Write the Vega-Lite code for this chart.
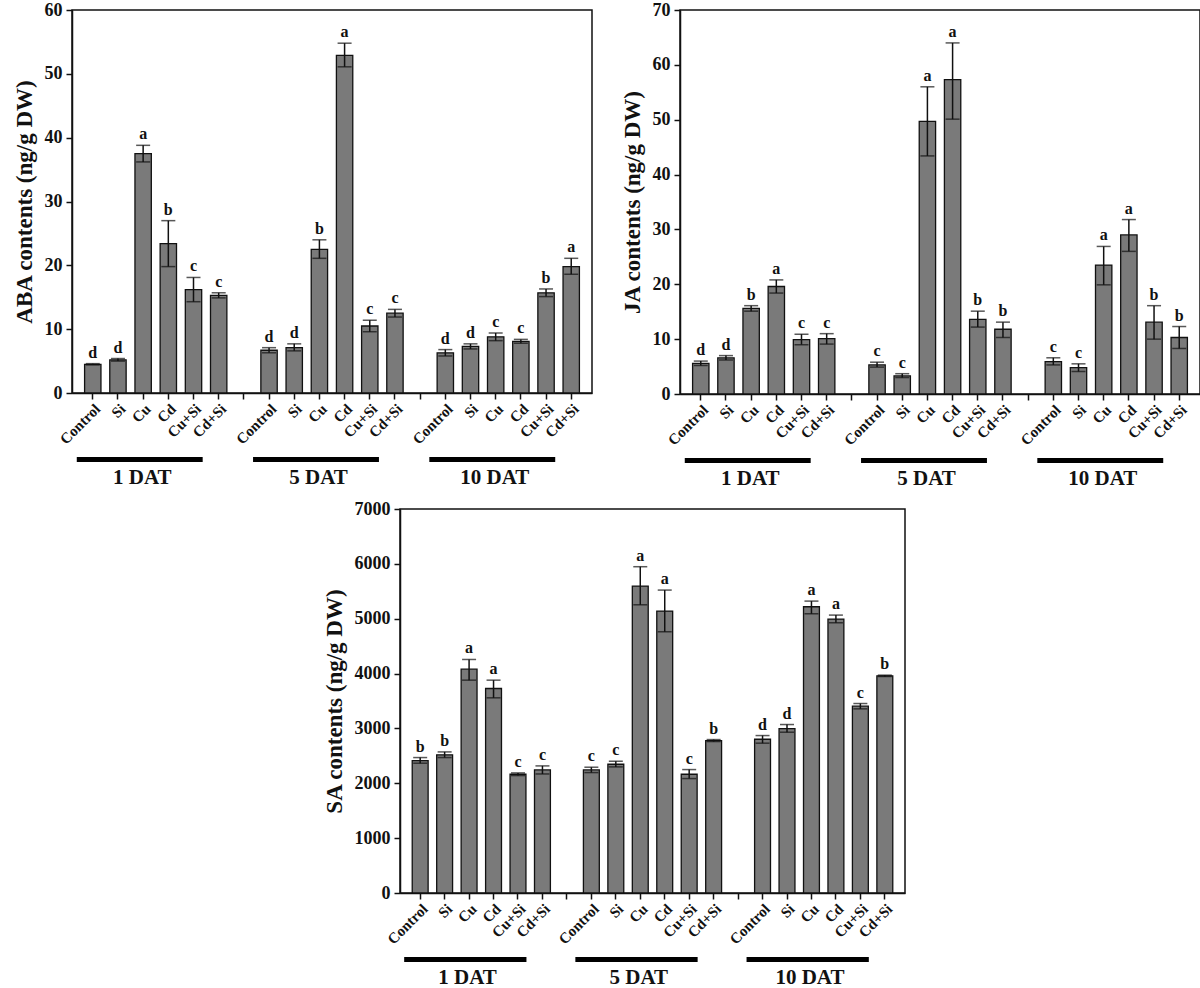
{
  "$schema": "https://vega.github.io/schema/vega-lite/v6.json",
  "background": "white",
  "padding": {"left": 12, "top": 0, "right": 0, "bottom": 0},
  "datasets": {
    "aba": [
      {"key": "1 DAT|Control", "day": "1 DAT", "trt": "Control", "value": 4.5, "lo": 4.4, "hi": 4.6, "letter": "d"},
      {"key": "1 DAT|Si", "day": "1 DAT", "trt": "Si", "value": 5.2, "lo": 5.0, "hi": 5.4, "letter": "d"},
      {"key": "1 DAT|Cu", "day": "1 DAT", "trt": "Cu", "value": 37.5, "lo": 36.2, "hi": 38.8, "letter": "a"},
      {"key": "1 DAT|Cd", "day": "1 DAT", "trt": "Cd", "value": 23.4, "lo": 19.8, "hi": 27.0, "letter": "b"},
      {"key": "1 DAT|Cu+Si", "day": "1 DAT", "trt": "Cu+Si", "value": 16.2, "lo": 14.3, "hi": 18.1, "letter": "c"},
      {"key": "1 DAT|Cd+Si", "day": "1 DAT", "trt": "Cd+Si", "value": 15.3, "lo": 14.9, "hi": 15.7, "letter": "c"},
      {"key": "5 DAT|Control", "day": "5 DAT", "trt": "Control", "value": 6.7, "lo": 6.3, "hi": 7.1, "letter": "d"},
      {"key": "5 DAT|Si", "day": "5 DAT", "trt": "Si", "value": 7.1, "lo": 6.6, "hi": 7.7, "letter": "d"},
      {"key": "5 DAT|Cu", "day": "5 DAT", "trt": "Cu", "value": 22.5, "lo": 21.1, "hi": 24.0, "letter": "b"},
      {"key": "5 DAT|Cd", "day": "5 DAT", "trt": "Cd", "value": 52.9, "lo": 51.1, "hi": 54.8, "letter": "a"},
      {"key": "5 DAT|Cu+Si", "day": "5 DAT", "trt": "Cu+Si", "value": 10.5, "lo": 9.6, "hi": 11.4, "letter": "c"},
      {"key": "5 DAT|Cd+Si", "day": "5 DAT", "trt": "Cd+Si", "value": 12.5, "lo": 11.9, "hi": 13.1, "letter": "c"},
      {"key": "10 DAT|Control", "day": "10 DAT", "trt": "Control", "value": 6.3, "lo": 5.8, "hi": 6.8, "letter": "d"},
      {"key": "10 DAT|Si", "day": "10 DAT", "trt": "Si", "value": 7.3, "lo": 6.9, "hi": 7.7, "letter": "d"},
      {"key": "10 DAT|Cu", "day": "10 DAT", "trt": "Cu", "value": 8.8, "lo": 8.2, "hi": 9.4, "letter": "c"},
      {"key": "10 DAT|Cd", "day": "10 DAT", "trt": "Cd", "value": 8.1, "lo": 7.8, "hi": 8.4, "letter": "c"},
      {"key": "10 DAT|Cu+Si", "day": "10 DAT", "trt": "Cu+Si", "value": 15.7, "lo": 15.1, "hi": 16.3, "letter": "b"},
      {"key": "10 DAT|Cd+Si", "day": "10 DAT", "trt": "Cd+Si", "value": 19.8, "lo": 18.6, "hi": 21.1, "letter": "a"}
    ],
    "ja": [
      {"key": "1 DAT|Control", "day": "1 DAT", "trt": "Control", "value": 5.6, "lo": 5.2, "hi": 6.0, "letter": "d"},
      {"key": "1 DAT|Si", "day": "1 DAT", "trt": "Si", "value": 6.6, "lo": 6.2, "hi": 7.0, "letter": "d"},
      {"key": "1 DAT|Cu", "day": "1 DAT", "trt": "Cu", "value": 15.6, "lo": 15.1, "hi": 16.1, "letter": "b"},
      {"key": "1 DAT|Cd", "day": "1 DAT", "trt": "Cd", "value": 19.6, "lo": 18.4, "hi": 20.8, "letter": "a"},
      {"key": "1 DAT|Cu+Si", "day": "1 DAT", "trt": "Cu+Si", "value": 9.9, "lo": 9.0, "hi": 10.9, "letter": "c"},
      {"key": "1 DAT|Cd+Si", "day": "1 DAT", "trt": "Cd+Si", "value": 10.1, "lo": 9.1, "hi": 11.0, "letter": "c"},
      {"key": "5 DAT|Control", "day": "5 DAT", "trt": "Control", "value": 5.3, "lo": 4.9, "hi": 5.8, "letter": "c"},
      {"key": "5 DAT|Si", "day": "5 DAT", "trt": "Si", "value": 3.3, "lo": 3.0, "hi": 3.7, "letter": "c"},
      {"key": "5 DAT|Cu", "day": "5 DAT", "trt": "Cu", "value": 49.7, "lo": 43.4, "hi": 56.0, "letter": "a"},
      {"key": "5 DAT|Cd", "day": "5 DAT", "trt": "Cd", "value": 57.3, "lo": 50.1, "hi": 64.0, "letter": "a"},
      {"key": "5 DAT|Cu+Si", "day": "5 DAT", "trt": "Cu+Si", "value": 13.6, "lo": 12.2, "hi": 15.1, "letter": "b"},
      {"key": "5 DAT|Cd+Si", "day": "5 DAT", "trt": "Cd+Si", "value": 11.8, "lo": 10.3, "hi": 13.1, "letter": "b"},
      {"key": "10 DAT|Control", "day": "10 DAT", "trt": "Control", "value": 5.9, "lo": 5.3, "hi": 6.6, "letter": "c"},
      {"key": "10 DAT|Si", "day": "10 DAT", "trt": "Si", "value": 4.8, "lo": 4.1, "hi": 5.5, "letter": "c"},
      {"key": "10 DAT|Cu", "day": "10 DAT", "trt": "Cu", "value": 23.5, "lo": 19.9, "hi": 26.9, "letter": "a"},
      {"key": "10 DAT|Cd", "day": "10 DAT", "trt": "Cd", "value": 29.0, "lo": 26.0, "hi": 31.8, "letter": "a"},
      {"key": "10 DAT|Cu+Si", "day": "10 DAT", "trt": "Cu+Si", "value": 13.1, "lo": 10.0, "hi": 16.1, "letter": "b"},
      {"key": "10 DAT|Cd+Si", "day": "10 DAT", "trt": "Cd+Si", "value": 10.3, "lo": 8.3, "hi": 12.3, "letter": "b"}
    ],
    "sa": [
      {"key": "1 DAT|Control", "day": "1 DAT", "trt": "Control", "value": 2414, "lo": 2366, "hi": 2469, "letter": "b"},
      {"key": "1 DAT|Si", "day": "1 DAT", "trt": "Si", "value": 2518, "lo": 2469, "hi": 2572, "letter": "b"},
      {"key": "1 DAT|Cu", "day": "1 DAT", "trt": "Cu", "value": 4081, "lo": 3880, "hi": 4257, "letter": "a"},
      {"key": "1 DAT|Cd", "day": "1 DAT", "trt": "Cd", "value": 3728, "lo": 3558, "hi": 3880, "letter": "a"},
      {"key": "1 DAT|Cu+Si", "day": "1 DAT", "trt": "Cu+Si", "value": 2165, "lo": 2141, "hi": 2189, "letter": "c"},
      {"key": "1 DAT|Cd+Si", "day": "1 DAT", "trt": "Cd+Si", "value": 2244, "lo": 2170, "hi": 2317, "letter": "c"},
      {"key": "5 DAT|Control", "day": "5 DAT", "trt": "Control", "value": 2244, "lo": 2195, "hi": 2293, "letter": "c"},
      {"key": "5 DAT|Si", "day": "5 DAT", "trt": "Si", "value": 2347, "lo": 2299, "hi": 2402, "letter": "c"},
      {"key": "5 DAT|Cu", "day": "5 DAT", "trt": "Cu", "value": 5595, "lo": 5254, "hi": 5948, "letter": "a"},
      {"key": "5 DAT|Cd", "day": "5 DAT", "trt": "Cd", "value": 5139, "lo": 4762, "hi": 5522, "letter": "a"},
      {"key": "5 DAT|Cu+Si", "day": "5 DAT", "trt": "Cu+Si", "value": 2165, "lo": 2086, "hi": 2250, "letter": "c"},
      {"key": "5 DAT|Cd+Si", "day": "5 DAT", "trt": "Cd+Si", "value": 2779, "lo": 2761, "hi": 2797, "letter": "b"},
      {"key": "10 DAT|Control", "day": "10 DAT", "trt": "Control", "value": 2803, "lo": 2731, "hi": 2870, "letter": "d"},
      {"key": "10 DAT|Si", "day": "10 DAT", "trt": "Si", "value": 2998, "lo": 2931, "hi": 3071, "letter": "d"},
      {"key": "10 DAT|Cu", "day": "10 DAT", "trt": "Cu", "value": 5218, "lo": 5090, "hi": 5321, "letter": "a"},
      {"key": "10 DAT|Cd", "day": "10 DAT", "trt": "Cd", "value": 4993, "lo": 4926, "hi": 5066, "letter": "a"},
      {"key": "10 DAT|Cu+Si", "day": "10 DAT", "trt": "Cu+Si", "value": 3406, "lo": 3357, "hi": 3454, "letter": "c"},
      {"key": "10 DAT|Cd+Si", "day": "10 DAT", "trt": "Cd+Si", "value": 3959, "lo": 3947, "hi": 3971, "letter": "b"}
    ],
    "groups": [
      {"day": "1 DAT", "first": "1 DAT|Control", "last": "1 DAT|Cd+Si", "mid": "1 DAT|Cd"},
      {"day": "5 DAT", "first": "5 DAT|Control", "last": "5 DAT|Cd+Si", "mid": "5 DAT|Cd"},
      {"day": "10 DAT", "first": "10 DAT|Control", "last": "10 DAT|Cd+Si", "mid": "10 DAT|Cd"}
    ]
  },
  "vconcat": [
    {
      "hconcat": [
        {
          "vconcat": [
            {
              "width": 520, "height": 383,
              "data": {"name": "aba"},
              "layer": [
                {"mark": {"type": "bar", "fill": "#7a7a7a", "stroke": "#111", "strokeWidth": 1.3},
                 "encoding": {
                   "x": {"field": "key", "type": "nominal", "title": null, "sort": null,
                         "scale": {"domain": ["1 DAT|Control","1 DAT|Si","1 DAT|Cu","1 DAT|Cd","1 DAT|Cu+Si","1 DAT|Cd+Si","gap1","5 DAT|Control","5 DAT|Si","5 DAT|Cu","5 DAT|Cd","5 DAT|Cu+Si","5 DAT|Cd+Si","gap2","10 DAT|Control","10 DAT|Si","10 DAT|Cu","10 DAT|Cd","10 DAT|Cu+Si","10 DAT|Cd+Si"], "paddingInner": 0.35, "paddingOuter": 0.5},
                         "axis": {"labelExpr": "indexof(datum.value, '|') > 0 ? split(datum.value, '|')[1] : ''"}},
                   "y": {"field": "value", "type": "quantitative", "title": "ABA  contents (ng/g DW)",
                         "scale": {"domain": [0, 60], "nice": false}, "axis": {"values": [0, 10, 20, 30, 40, 50, 60]}}
                 }},
                {"mark": {"type": "errorbar", "color": "#111", "ticks": {"size": 14, "thickness": 1.5}, "rule": {"strokeWidth": 1.5}},
                 "encoding": {
                   "x": {"field": "key", "type": "nominal", "title": null, "sort": null},
                   "y": {"field": "lo", "type": "quantitative", "title": "ABA  contents (ng/g DW)"},
                   "y2": {"field": "hi"}
                 }},
                {"mark": {"type": "text", "font": "Liberation Serif", "fontWeight": "bold", "fontSize": 16, "baseline": "bottom", "dy": -3, "color": "#111"},
                 "encoding": {
                   "x": {"field": "key", "type": "nominal", "title": null, "sort": null},
                   "y": {"field": "hi", "type": "quantitative", "title": "ABA  contents (ng/g DW)"},
                   "text": {"field": "letter"}
                 }}
              ]
            },
            {
              "width": 520, "height": 40,
              "view": {"stroke": null},
              "data": {"name": "groups"},
              "layer": [
                {"mark": {"type": "rule", "strokeWidth": 5, "color": "black", "xOffset": -16, "x2Offset": -16},
                 "encoding": {
                   "x": {"field": "first", "type": "nominal", "axis": null, "sort": null,
                         "scale": {"domain": ["1 DAT|Control","1 DAT|Si","1 DAT|Cu","1 DAT|Cd","1 DAT|Cu+Si","1 DAT|Cd+Si","gap1","5 DAT|Control","5 DAT|Si","5 DAT|Cu","5 DAT|Cd","5 DAT|Cu+Si","5 DAT|Cd+Si","gap2","10 DAT|Control","10 DAT|Si","10 DAT|Cu","10 DAT|Cd","10 DAT|Cu+Si","10 DAT|Cd+Si"], "paddingInner": 0.35, "paddingOuter": 0.5}},
                   "x2": {"field": "last"},
                   "y": {"datum": 0.71, "type": "quantitative", "axis": null, "scale": {"domain": [0, 1]}}
                 }},
                {"mark": {"type": "text", "font": "Liberation Serif", "fontWeight": "bold", "fontSize": 21, "baseline": "middle", "align": "center", "dx": -26, "color": "#111"},
                 "encoding": {
                   "x": {"field": "mid", "type": "nominal", "axis": null, "sort": null},
                   "y": {"datum": 0.26, "type": "quantitative", "axis": null},
                   "text": {"field": "day"}
                 }}
              ]
            }
          ],
          "spacing": 0
        },
        {
          "vconcat": [
            {
              "width": 520, "height": 384,
              "data": {"name": "ja"},
              "layer": [
                {"mark": {"type": "bar", "fill": "#7a7a7a", "stroke": "#111", "strokeWidth": 1.3},
                 "encoding": {
                   "x": {"field": "key", "type": "nominal", "title": null, "sort": null,
                         "scale": {"domain": ["1 DAT|Control","1 DAT|Si","1 DAT|Cu","1 DAT|Cd","1 DAT|Cu+Si","1 DAT|Cd+Si","gap1","5 DAT|Control","5 DAT|Si","5 DAT|Cu","5 DAT|Cd","5 DAT|Cu+Si","5 DAT|Cd+Si","gap2","10 DAT|Control","10 DAT|Si","10 DAT|Cu","10 DAT|Cd","10 DAT|Cu+Si","10 DAT|Cd+Si"], "paddingInner": 0.35, "paddingOuter": 0.5},
                         "axis": {"labelExpr": "indexof(datum.value, '|') > 0 ? split(datum.value, '|')[1] : ''"}},
                   "y": {"field": "value", "type": "quantitative", "title": "JA  contents (ng/g DW)",
                         "scale": {"domain": [0, 70], "nice": false}, "axis": {"values": [0, 10, 20, 30, 40, 50, 60, 70]}}
                 }},
                {"mark": {"type": "errorbar", "color": "#111", "ticks": {"size": 14, "thickness": 1.5}, "rule": {"strokeWidth": 1.5}},
                 "encoding": {
                   "x": {"field": "key", "type": "nominal", "title": null, "sort": null},
                   "y": {"field": "lo", "type": "quantitative", "title": "JA  contents (ng/g DW)"},
                   "y2": {"field": "hi"}
                 }},
                {"mark": {"type": "text", "font": "Liberation Serif", "fontWeight": "bold", "fontSize": 16, "baseline": "bottom", "dy": -3, "color": "#111"},
                 "encoding": {
                   "x": {"field": "key", "type": "nominal", "title": null, "sort": null},
                   "y": {"field": "hi", "type": "quantitative", "title": "JA  contents (ng/g DW)"},
                   "text": {"field": "letter"}
                 }}
              ]
            },
            {
              "width": 520, "height": 40,
              "view": {"stroke": null},
              "data": {"name": "groups"},
              "layer": [
                {"mark": {"type": "rule", "strokeWidth": 5, "color": "black", "xOffset": -16, "x2Offset": -16},
                 "encoding": {
                   "x": {"field": "first", "type": "nominal", "axis": null, "sort": null,
                         "scale": {"domain": ["1 DAT|Control","1 DAT|Si","1 DAT|Cu","1 DAT|Cd","1 DAT|Cu+Si","1 DAT|Cd+Si","gap1","5 DAT|Control","5 DAT|Si","5 DAT|Cu","5 DAT|Cd","5 DAT|Cu+Si","5 DAT|Cd+Si","gap2","10 DAT|Control","10 DAT|Si","10 DAT|Cu","10 DAT|Cd","10 DAT|Cu+Si","10 DAT|Cd+Si"], "paddingInner": 0.35, "paddingOuter": 0.5}},
                   "x2": {"field": "last"},
                   "y": {"datum": 0.71, "type": "quantitative", "axis": null, "scale": {"domain": [0, 1]}}
                 }},
                {"mark": {"type": "text", "font": "Liberation Serif", "fontWeight": "bold", "fontSize": 21, "baseline": "middle", "align": "center", "dx": -26, "color": "#111"},
                 "encoding": {
                   "x": {"field": "mid", "type": "nominal", "axis": null, "sort": null},
                   "y": {"datum": 0.26, "type": "quantitative", "axis": null},
                   "text": {"field": "day"}
                 }}
              ]
            }
          ],
          "spacing": 0
        }
      ],
      "spacing": 27
    },
    {
      "hconcat": [
        {
          "width": 250, "height": 1,
          "view": {"stroke": null},
          "mark": {"type": "rule", "opacity": 0},
          "encoding": {}
        },
        {
          "vconcat": [
            {
              "width": 505, "height": 384,
              "data": {"name": "sa"},
              "layer": [
                {"mark": {"type": "bar", "fill": "#7a7a7a", "stroke": "#111", "strokeWidth": 1.3},
                 "encoding": {
                   "x": {"field": "key", "type": "nominal", "title": null, "sort": null,
                         "scale": {"domain": ["1 DAT|Control","1 DAT|Si","1 DAT|Cu","1 DAT|Cd","1 DAT|Cu+Si","1 DAT|Cd+Si","gap1","5 DAT|Control","5 DAT|Si","5 DAT|Cu","5 DAT|Cd","5 DAT|Cu+Si","5 DAT|Cd+Si","gap2","10 DAT|Control","10 DAT|Si","10 DAT|Cu","10 DAT|Cd","10 DAT|Cu+Si","10 DAT|Cd+Si"], "paddingInner": 0.35, "paddingOuter": 0.5},
                         "axis": {"labelExpr": "indexof(datum.value, '|') > 0 ? split(datum.value, '|')[1] : ''"}},
                   "y": {"field": "value", "type": "quantitative", "title": "SA contents (ng/g DW)",
                         "scale": {"domain": [0, 7000], "nice": false}, "axis": {"values": [0, 1000, 2000, 3000, 4000, 5000, 6000, 7000], "format": "d"}}
                 }},
                {"mark": {"type": "errorbar", "color": "#111", "ticks": {"size": 14, "thickness": 1.5}, "rule": {"strokeWidth": 1.5}},
                 "encoding": {
                   "x": {"field": "key", "type": "nominal", "title": null, "sort": null},
                   "y": {"field": "lo", "type": "quantitative", "title": "SA contents (ng/g DW)"},
                   "y2": {"field": "hi"}
                 }},
                {"mark": {"type": "text", "font": "Liberation Serif", "fontWeight": "bold", "fontSize": 16, "baseline": "bottom", "dy": -3, "color": "#111"},
                 "encoding": {
                   "x": {"field": "key", "type": "nominal", "title": null, "sort": null},
                   "y": {"field": "hi", "type": "quantitative", "title": "SA contents (ng/g DW)"},
                   "text": {"field": "letter"}
                 }}
              ]
            },
            {
              "width": 505, "height": 40,
              "view": {"stroke": null},
              "data": {"name": "groups"},
              "layer": [
                {"mark": {"type": "rule", "strokeWidth": 5, "color": "black", "xOffset": -16, "x2Offset": -16},
                 "encoding": {
                   "x": {"field": "first", "type": "nominal", "axis": null, "sort": null,
                         "scale": {"domain": ["1 DAT|Control","1 DAT|Si","1 DAT|Cu","1 DAT|Cd","1 DAT|Cu+Si","1 DAT|Cd+Si","gap1","5 DAT|Control","5 DAT|Si","5 DAT|Cu","5 DAT|Cd","5 DAT|Cu+Si","5 DAT|Cd+Si","gap2","10 DAT|Control","10 DAT|Si","10 DAT|Cu","10 DAT|Cd","10 DAT|Cu+Si","10 DAT|Cd+Si"], "paddingInner": 0.35, "paddingOuter": 0.5}},
                   "x2": {"field": "last"},
                   "y": {"datum": 0.71, "type": "quantitative", "axis": null, "scale": {"domain": [0, 1]}}
                 }},
                {"mark": {"type": "text", "font": "Liberation Serif", "fontWeight": "bold", "fontSize": 21, "baseline": "middle", "align": "center", "dx": -26, "color": "#111"},
                 "encoding": {
                   "x": {"field": "mid", "type": "nominal", "axis": null, "sort": null},
                   "y": {"datum": 0.26, "type": "quantitative", "axis": null},
                   "text": {"field": "day"}
                 }}
              ]
            }
          ],
          "spacing": 0
        }
      ],
      "spacing": 0
    }
  ],
  "spacing": 10,
  "config": {
    "font": "Liberation Serif",
    "view": {"stroke": "#111", "strokeWidth": 1.5},
    "axis": {
      "labelFont": "Liberation Serif", "labelFontWeight": "bold", "labelColor": "#111",
      "titleFont": "Liberation Serif", "titleFontWeight": "bold", "titleColor": "#111",
      "domainColor": "#111", "domainWidth": 1.5, "tickColor": "#111", "tickWidth": 1.5, "tickSize": 6, "grid": false
    },
    "axisX": {"labelAngle": -45, "labelFontSize": 15, "labelPadding": 2, "labelOverlap": false},
    "axisY": {"labelFontSize": 18, "titleFontSize": 23, "titlePadding": 8, "labelPadding": 4}
  }
}
